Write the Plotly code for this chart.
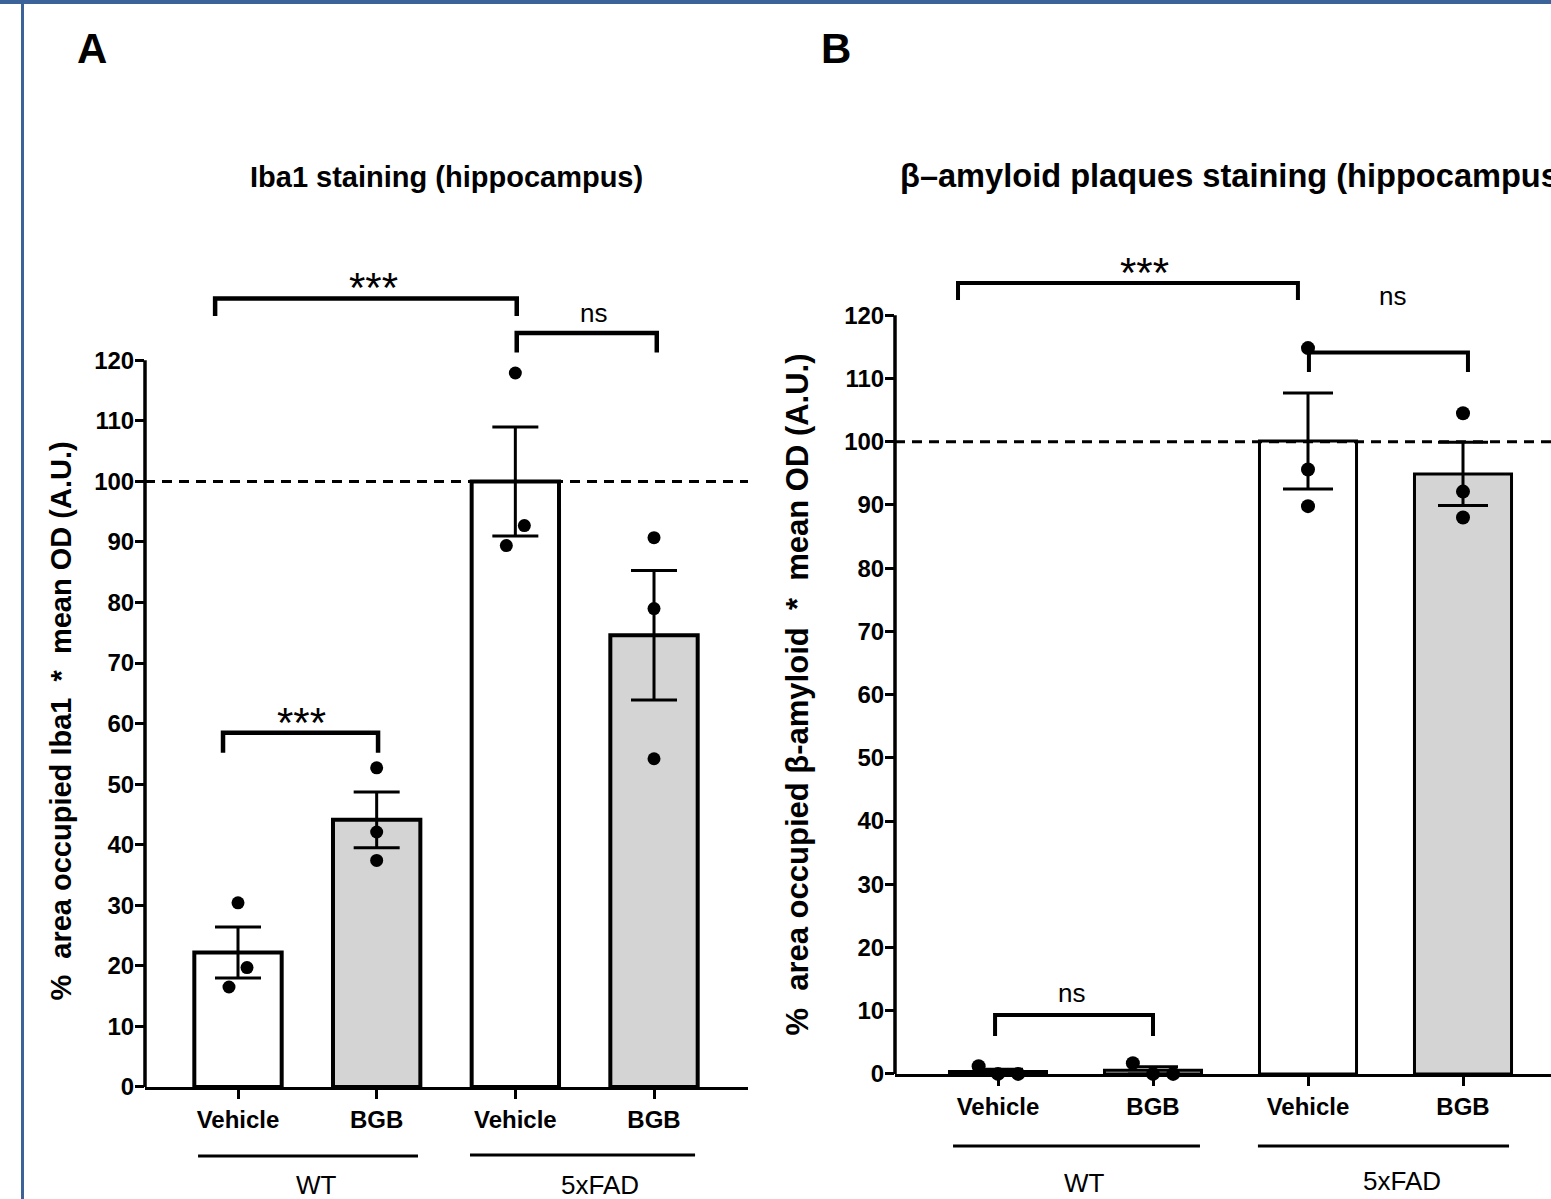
import plotly.graph_objects as go

W, H = 1551, 1199          # design (reference) size in px
FIG_H = 1213               # rendered height; the capture is squeezed slightly vertically

# ---------------- data ----------------
categories = ["Vehicle", "BGB", "Vehicle", "BGB"]
groups = ["WT", "5xFAD"]

# Panel A: Iba1
A_means = [22.2, 44.1, 100.0, 74.6]
A_sem = [4.2, 4.6, 9.0, 10.7]
A_points = [[30.4, 19.7, 16.5], [52.7, 42.1, 37.4], [117.9, 92.7, 89.4], [90.7, 79.0, 54.2]]
A_jitter = [[0.0, 0.065, -0.065], [0.0, 0.0, 0.0], [0.0, 0.065, -0.065], [0.0, 0.0, 0.0]]
A_brackets = [(-0.165, 2.01, 130.2, 127.3, "***"), (2.01, 3.02, 124.5, 121.3, "ns"), (-0.108, 1.01, 58.5, 55.2, "***")]
A_bracket_labels = [(0.98, 133.7), (2.567, 127.8), (0.46, 61.8)]

# Panel B: beta-amyloid
B_means = [0.37, 0.57, 100.1, 94.9]
B_sem = [0.35, 0.57, 7.6, 5.0]
B_points = [[1.2, 0.0, 0.0], [1.7, 0.0, 0.0], [114.8, 95.6, 89.8], [104.5, 92.1, 88.0]]
B_jitter = [[-0.125, 0.0, 0.13], [-0.13, 0.0, 0.13], [0.0, 0.0, 0.0], [0.0, 0.0, 0.0]]
B_brackets = [(-0.258, 1.935, 125.1, 122.4, "***"), (2.006, 3.032, 114.1, 111.0, "ns"), (-0.019, 1.0, 9.3, 6.0, "ns")]
B_bracket_labels = [(0.948, 128.4), (2.548, 123.0), (0.471, 12.8)]

y_ticks = list(range(0, 121, 10))
REF_LINE = 100

FILLS = ["white", "#d4d4d4", "white", "#d4d4d4"]
FONT = "Liberation Sans, Arial, sans-serif"


def px(x):
    return x / W


def py(y):
    return 1 - y / H


fig = go.Figure()

panels = [
    dict(name="A", xa="x", ya="y", means=A_means, sem=A_sem, pts=A_points, jit=A_jitter,
         br=A_brackets, brl=A_bracket_labels, x0px=238, step=138.67, left=145, right=748,
         y0px=1086, ppu=6.05, ymax=137, bw=0.63, olw=4, ms=13, ebw=23, brw=4.5,
         glines=[(-0.288, 1.298, 1155), (1.673, 3.296, 1154)], glab=[(0.5625, 1184), (2.61, 1184)],
         ylab="%  area occupied Iba1  *  mean OD (A.U.)", ylabx=61, ylaby=721, ylabsize=29,
         title="Iba1 staining (hippocampus)", titlex=446, titley=177, titleanchor="center", titlesize=29,
         letter="A", letx=92, lety=48),
    dict(name="B", xa="x2", ya="y2", means=B_means, sem=B_sem, pts=B_points, jit=B_jitter,
         br=B_brackets, brl=B_bracket_labels, x0px=998, step=155.0, left=895, right=W,
         y0px=1073, ppu=6.317, ymax=130, bw=0.626, olw=3, ms=14, ebw=25, brw=4,
         glines=[(-0.29, 1.303, 1145), (1.677, 3.297, 1145)], glab=[(0.561, 1182), (2.606, 1180)],
         ylab="%  area occupied β-amyloid  *  mean OD (A.U.)", ylabx=798, ylaby=694, ylabsize=31,
         title="β–amyloid plaques staining (hippocampus)", titlex=898, titley=175, titleanchor="left", titlesize=32.6,
         letter="B", letx=836, lety=48),
]

shapes = []
annotations = []

for p in panels:
    xa, ya = p["xa"], p["ya"]
    xs = list(range(len(categories)))
    # bars
    fig.add_trace(go.Bar(
        x=xs, y=p["means"], width=p["bw"], xaxis=xa, yaxis=ya,
        marker=dict(color=FILLS, line=dict(color="black", width=p["olw"])),
        error_y=dict(type="data", array=p["sem"], color="black", thickness=3, width=p["ebw"]),
        showlegend=False, hoverinfo="skip",
    ))
    # individual points
    for i, vals in enumerate(p["pts"]):
        fig.add_trace(go.Scatter(
            x=[i + j for j in p["jit"][i]], y=vals, mode="markers", xaxis=xa, yaxis=ya,
            marker=dict(color="black", size=p["ms"]), cliponaxis=False,
            showlegend=False, hoverinfo="skip",
        ))
    # significance brackets
    for (x0, x1, top, leg, lab), (lx, ly) in zip(p["br"], p["brl"]):
        fig.add_trace(go.Scatter(
            x=[x0, x0, x1, x1], y=[leg, top, top, leg], mode="lines", xaxis=xa, yaxis=ya,
            line=dict(color="black", width=p["brw"]), showlegend=False, hoverinfo="skip",
        ))
        if lab == "***":
            annotations.append(dict(x=lx, y=ly, xref=xa, yref=ya, text=lab, showarrow=False,
                                    xanchor="center", yanchor="middle", yshift=-10,
                                    font=dict(family=FONT, size=42, color="black")))
        else:
            annotations.append(dict(x=lx, y=ly, xref=xa, yref=ya, text=lab, showarrow=False,
                                    xanchor="center", yanchor="middle",
                                    font=dict(family=FONT, size=26, color="black")))
    # y axis line (0..120)
    shapes.append(dict(type="line", xref=xa + " domain", yref=ya, x0=0, x1=0, y0=0, y1=120,
                       line=dict(color="black", width=3.5)))
    # reference dashed line
    shapes.append(dict(type="line", xref=xa + " domain", yref=ya, x0=0, x1=1, y0=REF_LINE, y1=REF_LINE,
                       line=dict(color="black", width=3, dash="10px,7px"), layer="above"))
    # group lines and labels
    for (g0, g1, gy), (lx, lyp), gname in zip(p["glines"], p["glab"], groups):
        shapes.append(dict(type="line", xref=xa, yref="paper", x0=g0, x1=g1, y0=py(gy), y1=py(gy),
                           line=dict(color="black", width=3)))
        annotations.append(dict(x=lx, y=py(lyp), xref=xa, yref="paper", text=gname, showarrow=False,
                                xanchor="center", yanchor="middle",
                                font=dict(family=FONT, size=26, color="black")))
    # y label
    annotations.append(dict(x=px(p["ylabx"]), y=py(p["ylaby"]), xref="paper", yref="paper",
                            text=p["ylab"], textangle=-90, showarrow=False,
                            xanchor="center", yanchor="middle",
                            font=dict(family=FONT, size=p["ylabsize"], color="black", weight="bold")))
    # title
    annotations.append(dict(x=px(p["titlex"]), y=py(p["titley"]), xref="paper", yref="paper",
                            text=p["title"], showarrow=False, xanchor=p["titleanchor"], yanchor="middle",
                            font=dict(family=FONT, size=p["titlesize"], color="black", weight="bold")))
    # panel letter
    annotations.append(dict(x=px(p["letx"]), y=py(p["lety"]), xref="paper", yref="paper",
                            text=p["letter"], showarrow=False, xanchor="center", yanchor="middle",
                            font=dict(family=FONT, size=42, color="black", weight="bold")))

    # axes
    xr0 = -(p["x0px"] - p["left"]) / p["step"]
    xr1 = (p["right"] - p["x0px"]) / p["step"]
    top_px = p["y0px"] - p["ymax"] * p["ppu"]
    xkey = "xaxis" if xa == "x" else "xaxis2"
    ykey = "yaxis" if ya == "y" else "yaxis2"
    fig.update_layout({
        xkey: dict(domain=[px(p["left"]), px(p["right"])], range=[xr0, xr1], anchor=ya,
                   tickvals=xs, ticktext=categories, showline=True, linecolor="black", linewidth=3,
                   ticks="outside", ticklen=9, tickwidth=3, tickcolor="black", showgrid=False,
                   zeroline=False, ticklabelstandoff=0,
                   tickfont=dict(family=FONT, size=24, color="black", weight="bold")),
        ykey: dict(domain=[py(p["y0px"]), py(top_px)], range=[0, p["ymax"]], anchor=xa,
                   tickvals=y_ticks, showline=False, ticks="outside", ticklen=9, tickwidth=3,
                   tickcolor="black", showgrid=False, zeroline=False, ticklabelstandoff=-4,
                   tickfont=dict(family=FONT, size=24, color="black", weight="bold")),
    })

# blue frame
shapes.append(dict(type="rect", xref="paper", yref="paper", x0=0, x1=1, y0=py(4), y1=1,
                   fillcolor="#3b6399", line=dict(width=0)))
shapes.append(dict(type="rect", xref="paper", yref="paper", x0=px(21), x1=px(24), y0=0, y1=1,
                   fillcolor="#3b6399", line=dict(width=0)))

fig.update_layout(
    width=W, height=FIG_H, margin=dict(l=0, r=0, t=0, b=0),
    paper_bgcolor="white", plot_bgcolor="rgba(0,0,0,0)",
    shapes=shapes, annotations=annotations, bargap=0, showlegend=False,
)

fig.write_html(
    "out.html",
    config={"displayModeBar": False, "staticPlot": True},
    post_script=("var h=document.documentElement, b=document.body;"
                 "h.style.margin='0px'; h.style.padding='0px'; h.style.overflow='hidden';"
                 "b.style.margin='0px'; b.style.padding='0px'; b.style.overflow='hidden';"),
)
